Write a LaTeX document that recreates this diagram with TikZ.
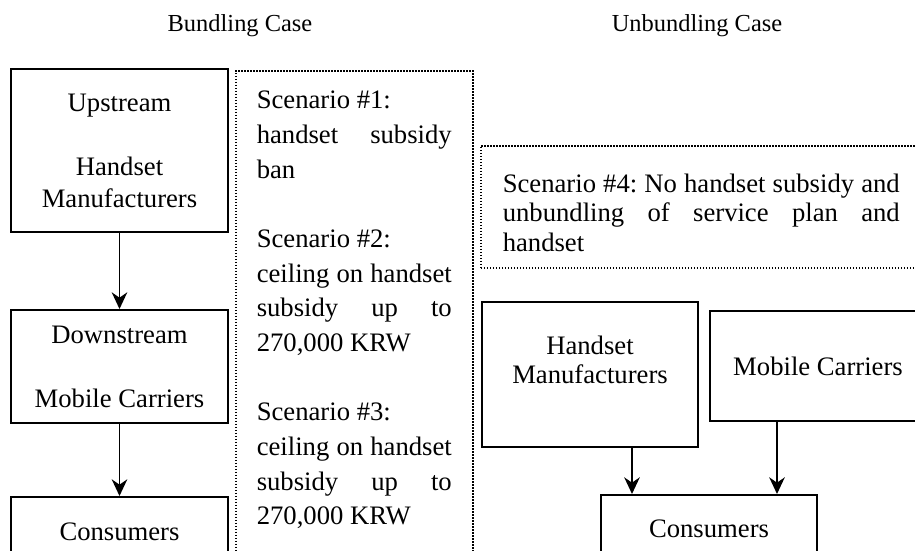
\documentclass[tikz,border=0pt]{standalone}
\usepackage{fontspec}
\setmainfont{Liberation Serif}
\usetikzlibrary{arrows.meta}
\frenchspacing

\newcommand{\pxu}{0.45pt}
\newcommand{\spreadline}[1]{\makebox[\linewidth][s]{#1}}

\tikzset{
  firm/.style={draw, line width=0.9pt, align=center, inner sep=0pt, anchor=north west,
    font=\fontsize{12}{14.4}\selectfont},
  firmR/.style={firm, font=\fontsize{12}{13.3}\selectfont},
  scenbox/.style={draw, line width=0.7pt, dash pattern=on 0.7pt off 0.65pt,
    anchor=north west, inner xsep=9.45pt, inner ysep=9.2pt},
  flow/.style={line width=0.85pt, -{Stealth[length=7.5pt,width=7pt,inset=2.4pt]}},
  heading/.style={font=\fontsize{11}{13}\selectfont}
}

\begin{document}
\begin{tikzpicture}[x=\pxu, y=-\pxu]
    \useasboundingbox (0,0) rectangle (915,551);

    % headings
    \node[heading] (bund) at (240,26) {Bundling Case};
    \node[heading] (unbund) at (697,26) {Unbundling Case};

    % Bundling case: vertical chain
    \node[firm, minimum width=217*\pxu, minimum height=163*\pxu] (up) at (10,68)
        {Upstream\\[14.4pt]Handset\\Manufacturers};
    \node[firm, minimum width=217*\pxu, minimum height=113*\pxu] (down) at (10,309)
        {Downstream\\[14.4pt]Mobile Carriers};
    \node[firm, minimum width=217*\pxu, minimum height=70*\pxu] (consL) at (10,496)
        {Consumers};

    \draw[flow] (up) -- (down);
    \draw[flow] (down) -- (consL);

    % scenarios #1 -- #3
    \node[scenbox] (scen) at (235,70) {\parbox[t][206.1pt][t]{87.75pt}{%
        \fontsize{12}{15.6}\selectfont
        Scenario \#1:\\
        \spreadline{handset subsidy}\\
        ban\\[15.6pt]
        Scenario \#2:\\
        \spreadline{ceiling on handset}\\
        \spreadline{subsidy up to}\\
        270,000 KRW\\[15.6pt]
        Scenario \#3:\\
        \spreadline{ceiling on handset}\\
        \spreadline{subsidy up to}\\
        270,000 KRW}};

    % Unbundling case
    \node[scenbox, inner ysep=0pt, inner xsep=9.9pt, minimum height=122*\pxu] (scen4) at (480,145)
        {\parbox{178.65pt}{\fontsize{12}{13.3}\selectfont
        \vspace*{5.4pt}
        \spreadline{Scenario \#4: No handset subsidy and}\\
        \spreadline{unbundling of service plan and}\\
        handset}};

    \node[firmR, minimum width=216*\pxu, minimum height=145*\pxu] (hm) at (481,301)
        {Handset\\Manufacturers\\~};
    \node[firmR, minimum width=216*\pxu, minimum height=110*\pxu] (mc) at (709,310)
        {Mobile Carriers};
    \node[firmR, minimum width=216*\pxu, minimum height=68*\pxu] (consR) at (600,494)
        {Consumers};

    \coordinate (ha) at (632,0);
    \coordinate (ma) at (777,0);
    \draw[flow] (hm.south -| ha) -- (consR.north -| ha);
    \draw[flow] (mc.south -| ma) -- (consR.north -| ma);
\end{tikzpicture}
\end{document}
